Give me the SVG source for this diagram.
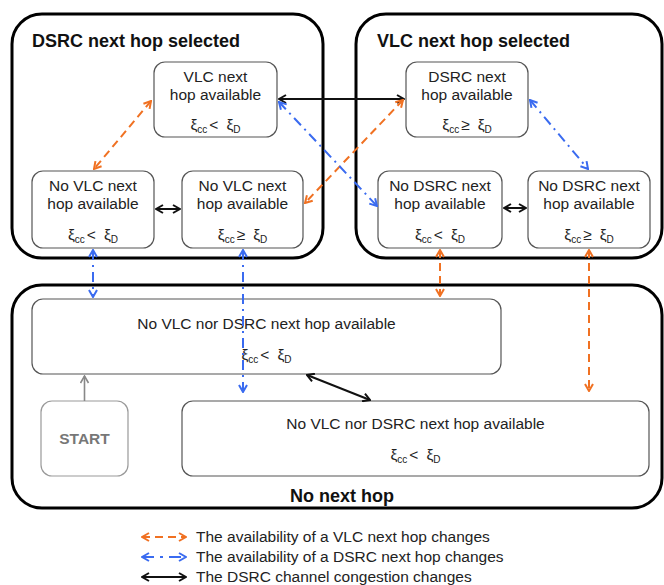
<svg xmlns="http://www.w3.org/2000/svg" width="664" height="585" viewBox="0 0 664 585">
<defs>
<style>
.grp{fill:none;stroke:#000;stroke-width:3}
.node{fill:#fff;stroke:#555;stroke-width:1.2}
.start{fill:#fff;stroke:#999;stroke-width:1.2}
.t{font-family:"Liberation Sans",Arial,sans-serif;font-size:15.5px;fill:#222;text-anchor:middle}
.sub{font-size:10px}
.title{font-family:"Liberation Sans",Arial,sans-serif;font-size:18px;font-weight:bold;fill:#111}
.lg{font-family:"Liberation Sans",Arial,sans-serif;font-size:15.5px;fill:#222}
.or{fill:none;stroke:#F07122;stroke-width:2;stroke-dasharray:8,5;marker-start:url(#mo);marker-end:url(#mo)}
.bl{fill:none;stroke:#3A6BF0;stroke-width:2;stroke-dasharray:10,5,2,5;marker-start:url(#mb);marker-end:url(#mb)}
.bk{fill:none;stroke:#111;stroke-width:2;marker-start:url(#mk);marker-end:url(#mk)}
</style>
<marker id="mo" viewBox="0 0 10 10" refX="9" refY="5" markerWidth="10" markerHeight="10" markerUnits="userSpaceOnUse" orient="auto-start-reverse"><path d="M2,1 L9,5 L2,9" fill="none" stroke="#F07122" stroke-width="2"/></marker>
<marker id="mb" viewBox="0 0 10 10" refX="9" refY="5" markerWidth="10" markerHeight="10" markerUnits="userSpaceOnUse" orient="auto-start-reverse"><path d="M2,1 L9,5 L2,9" fill="none" stroke="#3A6BF0" stroke-width="2"/></marker>
<marker id="mk" viewBox="0 0 10 10" refX="9" refY="5" markerWidth="10" markerHeight="10" markerUnits="userSpaceOnUse" orient="auto-start-reverse"><path d="M2,1 L9,5 L2,9" fill="none" stroke="#111" stroke-width="2"/></marker>
<marker id="mg" viewBox="0 0 10 10" refX="9" refY="5" markerWidth="10" markerHeight="10" markerUnits="userSpaceOnUse" orient="auto"><path d="M2,1 L9,5 L2,9" fill="none" stroke="#888" stroke-width="1.6"/></marker>
</defs>
<rect width="664" height="585" fill="#fff"/>

<g id="group-dsrc">
<rect class="grp" x="12" y="14" width="311" height="244" rx="30"/>
<text class="title" x="32" y="47">DSRC next hop selected</text>
</g>
<g id="group-vlc">
<rect class="grp" x="356" y="14" width="306" height="244" rx="30"/>
<text class="title" x="377" y="47">VLC next hop selected</text>
</g>
<g id="group-none">
<rect class="grp" x="12" y="285" width="650" height="223" rx="30"/>
<text class="title" x="342" y="502" text-anchor="middle">No next hop</text>
</g>

<g id="n-vlc-avail">
<rect class="node" x="154" y="62" width="123" height="75" rx="11"/>
<text class="t" x="215.5" y="82">VLC next</text>
<text class="t" x="215.5" y="100">hop available</text>
<text class="t" x="215.5" y="130">ξ<tspan class="sub" dy="3">cc</tspan><tspan dy="-3" dx="2">&lt;</tspan><tspan dx="8">ξ</tspan><tspan class="sub" dy="3">D</tspan></text>
</g>
<g id="n-novlc-lt">
<rect class="node" x="32" y="171" width="122" height="77" rx="11"/>
<text class="t" x="93" y="191">No VLC next</text>
<text class="t" x="93" y="209">hop available</text>
<text class="t" x="93" y="240">ξ<tspan class="sub" dy="3">cc</tspan><tspan dy="-3" dx="2">&lt;</tspan><tspan dx="8">ξ</tspan><tspan class="sub" dy="3">D</tspan></text>
</g>
<g id="n-novlc-ge">
<rect class="node" x="182" y="171" width="121" height="77" rx="11"/>
<text class="t" x="242.5" y="191">No VLC next</text>
<text class="t" x="242.5" y="209">hop available</text>
<text class="t" x="242.5" y="240">ξ<tspan class="sub" dy="3">cc</tspan><tspan dy="-3" dx="2">≥</tspan><tspan dx="8">ξ</tspan><tspan class="sub" dy="3">D</tspan></text>
</g>
<g id="n-dsrc-avail">
<rect class="node" x="406" y="62" width="122" height="75" rx="11"/>
<text class="t" x="467" y="82">DSRC next</text>
<text class="t" x="467" y="100">hop available</text>
<text class="t" x="467" y="130">ξ<tspan class="sub" dy="3">cc</tspan><tspan dy="-3" dx="2">≥</tspan><tspan dx="8">ξ</tspan><tspan class="sub" dy="3">D</tspan></text>
</g>
<g id="n-nodsrc-lt">
<rect class="node" x="378" y="171" width="124" height="77" rx="11"/>
<text class="t" x="440" y="191">No DSRC next</text>
<text class="t" x="440" y="209">hop available</text>
<text class="t" x="440" y="240">ξ<tspan class="sub" dy="3">cc</tspan><tspan dy="-3" dx="2">&lt;</tspan><tspan dx="8">ξ</tspan><tspan class="sub" dy="3">D</tspan></text>
</g>
<g id="n-nodsrc-ge">
<rect class="node" x="528" y="171" width="122" height="77" rx="11"/>
<text class="t" x="589" y="191">No DSRC next</text>
<text class="t" x="589" y="209">hop available</text>
<text class="t" x="589" y="240">ξ<tspan class="sub" dy="3">cc</tspan><tspan dy="-3" dx="2">≥</tspan><tspan dx="8">ξ</tspan><tspan class="sub" dy="3">D</tspan></text>
</g>
<g id="n-none-1">
<rect class="node" x="32" y="299" width="469" height="75" rx="11"/>
<text class="t" x="266.5" y="329">No VLC nor DSRC next hop available</text>
<text class="t" x="266.5" y="360">ξ<tspan class="sub" dy="3">cc</tspan><tspan dy="-3" dx="2">&lt;</tspan><tspan dx="8">ξ</tspan><tspan class="sub" dy="3">D</tspan></text>
</g>
<g id="n-none-2">
<rect class="node" x="182" y="401" width="467" height="75" rx="11"/>
<text class="t" x="415.5" y="429">No VLC nor DSRC next hop available</text>
<text class="t" x="415.5" y="460">ξ<tspan class="sub" dy="3">cc</tspan><tspan dy="-3" dx="2">&lt;</tspan><tspan dx="8">ξ</tspan><tspan class="sub" dy="3">D</tspan></text>
</g>
<g id="n-start">
<rect class="start" x="41" y="401" width="87" height="75" rx="11"/>
<text class="t" x="84.5" y="444" style="font-weight:bold;fill:#777">START</text>
</g>

<g id="connectors">
<line class="bk" x1="279" y1="99" x2="404" y2="99"/>
<line class="bk" x1="156" y1="209" x2="180" y2="209"/>
<line class="bk" x1="504" y1="208" x2="526" y2="208"/>
<line class="bk" x1="307" y1="375" x2="370" y2="400"/>
<line class="or" x1="151" y1="101" x2="94" y2="169"/>
<line class="or" x1="403" y1="100" x2="305" y2="203"/>
<line class="or" x1="440" y1="250" x2="440" y2="296"/>
<line class="or" x1="589" y1="250" x2="589" y2="391"/>
<line class="bl" x1="279" y1="102" x2="377" y2="206"/>
<line class="bl" x1="530" y1="100" x2="588" y2="169"/>
<line class="bl" x1="93" y1="250" x2="93" y2="297"/>
<line class="bl" x1="243" y1="250" x2="243" y2="392"/>
<line x1="84.5" y1="401" x2="84.5" y2="376" stroke="#888" stroke-width="1.6" marker-end="url(#mg)"/>
</g>

<g id="legend">
<line class="or" x1="142" y1="537" x2="186" y2="537"/>
<text class="lg" x="196" y="542">The availability of a VLC next hop changes</text>
<line class="bl" x1="142" y1="557" x2="186" y2="557" style="stroke-dasharray:12,6,3,6"/>
<text class="lg" x="196" y="562">The availability of a DSRC next hop changes</text>
<line class="bk" x1="142" y1="577" x2="186" y2="577"/>
<text class="lg" x="196" y="582">The DSRC channel congestion changes</text>
</g>
</svg>
